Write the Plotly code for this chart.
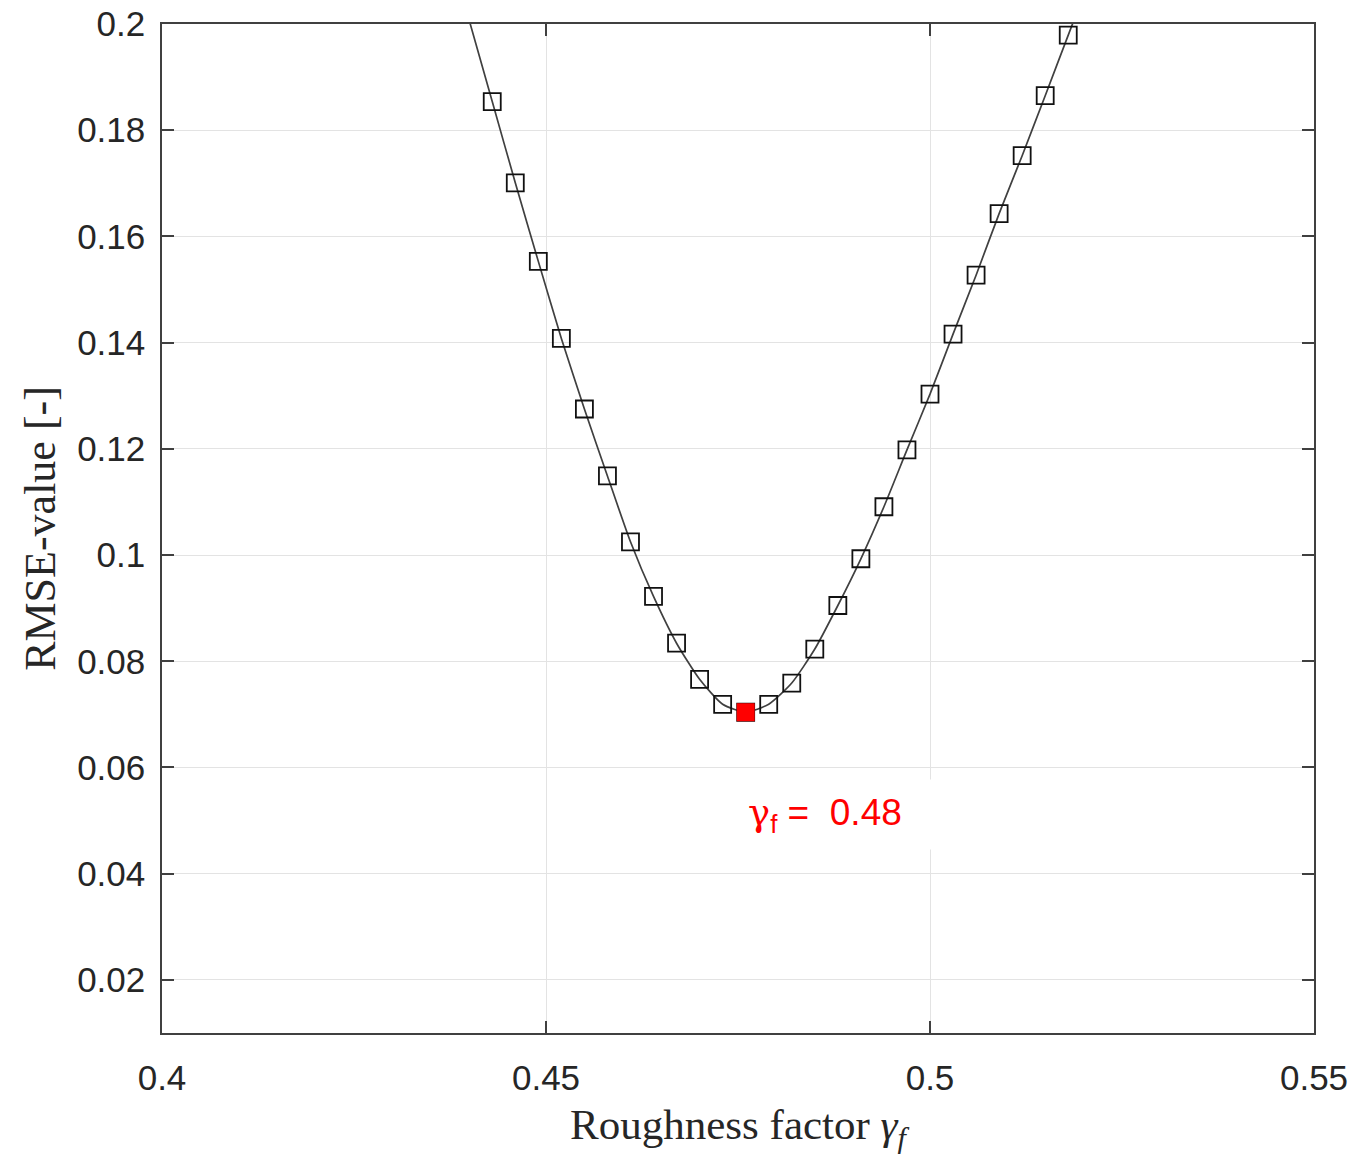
import plotly.graph_objects as go

# Roughness factor samples (markers)
gamma_f = [0.443, 0.446, 0.449, 0.452, 0.455, 0.458, 0.461, 0.464, 0.467, 0.470,
           0.473, 0.476, 0.479, 0.482, 0.485, 0.488, 0.491, 0.494, 0.497, 0.500,
           0.503, 0.506, 0.509, 0.512, 0.515, 0.518]
rmse = [0.1854, 0.1701, 0.1553, 0.1408, 0.1275, 0.1149, 0.1025, 0.0922, 0.0834, 0.0766,
        0.0719, 0.0704, 0.0719, 0.0759, 0.0823, 0.0905, 0.0993, 0.1091, 0.1198, 0.1303,
        0.1416, 0.1527, 0.1643, 0.1752, 0.1865, 0.1979]

# Curve (extends slightly beyond the marker samples)
curve_x = [0.440] + gamma_f + [0.521]
curve_y = [0.2007] + rmse + [0.2093]

# Optimum
gamma_opt = [0.476]
rmse_opt = [0.0704]
opt_label = "0.48"

x_ticks = [0.4, 0.45, 0.5, 0.55]
x_ticktext = ["0.4", "0.45", "0.5", "0.55"]
y_ticks = [0.02, 0.04, 0.06, 0.08, 0.10, 0.12, 0.14, 0.16, 0.18, 0.20]
y_ticktext = ["0.02", "0.04", "0.06", "0.08", "0.1", "0.12", "0.14", "0.16", "0.18", "0.2"]

fig = go.Figure()
fig.add_trace(go.Scatter(
    x=curve_x, y=curve_y, mode="lines",
    line=dict(color="#404040", width=1.7, shape="spline", smoothing=0.6),
    hoverinfo="skip", showlegend=False))
fig.add_trace(go.Scatter(
    x=gamma_f, y=rmse, mode="markers",
    marker=dict(symbol="square-open", size=17, color="#111111", line=dict(width=1.8)),
    showlegend=False))
fig.add_trace(go.Scatter(
    x=gamma_opt, y=rmse_opt, mode="markers",
    marker=dict(symbol="square", size=18, color="#ff0000"),
    showlegend=False))

fig.add_annotation(
    x=gamma_opt[0], y=0.0511, xref="x", yref="y",
    xanchor="left", yanchor="middle", xshift=-14,
    width=170, height=39, align="left", valign="middle",
    text="<span style='font-family:DejaVu Serif'>γ</span><sub>f</sub>\u00a0=\u00a0\u00a0" + opt_label,
    showarrow=False, bgcolor="white", borderpad=15,
    font=dict(family="Liberation Sans, Arial", size=37, color="#ff0000"))

axis_common = dict(
    showline=True, linecolor="#404040", linewidth=1.5, mirror="allticks",
    ticks="inside", ticklen=12, tickwidth=1.5, tickcolor="#404040",
    showgrid=True, gridcolor="#e3e3e3", gridwidth=1, zeroline=False,
    automargin=False,
    tickfont=dict(family="Liberation Sans, Arial", size=35, color="#262626"),
)

fig.update_xaxes(
    range=[0.4, 0.55], tickvals=x_ticks, ticktext=x_ticktext,
    ticklabelstandoff=13,
    title=dict(text="Roughness factor <i>γ<sub>f</sub></i>",
               font=dict(family="Liberation Serif, serif", size=43, color="#262626"),
               standoff=14),
    **axis_common)
fig.update_yaxes(
    range=[0.01, 0.2], tickvals=y_ticks, ticktext=y_ticktext,
    ticklabelstandoff=8,
    title=dict(text="RMSE-value [-]",
               font=dict(family="Liberation Serif, serif", size=44, color="#262626"),
               standoff=8),
    **axis_common)

fig.update_layout(
    width=1352, height=1155,
    margin=dict(l=162, r=38, t=24, b=122),
    paper_bgcolor="white", plot_bgcolor="white",
)

fig.write_html("out.html")
